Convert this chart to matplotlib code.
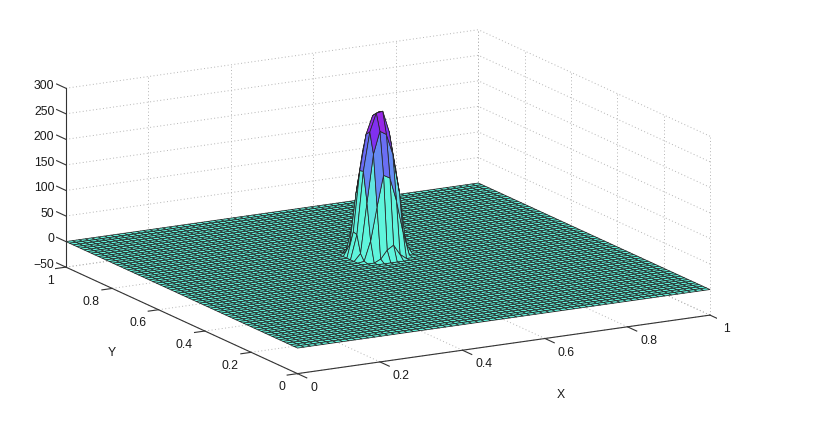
import numpy as np
import matplotlib
matplotlib.use('Agg')
import matplotlib.pyplot as plt
from matplotlib.colors import LinearSegmentedColormap
from mpl_toolkits.mplot3d import proj3d

plt.rcParams['font.family'] = ['Liberation Sans', 'DejaVu Sans']

# grid of the surface
grid_cells = 64
# the peak, rows go with peak_y, columns with peak_x; everything else is 0
peak_x = [0.469, 0.484, 0.500, 0.516, 0.531, 0.547, 0.562, 0.578]
peak_y = [0.531, 0.547, 0.562, 0.578, 0.594, 0.609, 0.625, 0.641]
peak_z = [
    [0, 0, 6, 22, 30, 10, 0, 0],
    [2, 40, 105, 165, 158, 112, 50, 2],
    [14, 112, 205, 248, 240, 200, 125, 22],
    [48, 170, 245, 280, 282, 240, 165, 58],
    [50, 168, 238, 272, 278, 248, 172, 62],
    [22, 122, 200, 236, 246, 207, 118, 30],
    [4, 58, 120, 162, 172, 128, 60, 6],
    [0, 8, 30, 58, 52, 22, 3, 0],
]

x_ticks = [0, 0.2, 0.4, 0.6, 0.8, 1]
y_ticks = [0, 0.2, 0.4, 0.6, 0.8, 1]
z_ticks = [-50, 0, 50, 100, 150, 200, 250, 300]
x_labels = ['0', '0.2', '0.4', '0.6', '0.8', '1']
y_labels = ['0', '0.2', '0.4', '0.6', '0.8', '1']
z_labels = ['\u221250', '0', '50', '100', '150', '200', '250', '300']

xs = np.linspace(0, 1, grid_cells + 1)
ys = np.linspace(0, 1, grid_cells + 1)
X, Y = np.meshgrid(xs, ys)
Z = np.zeros_like(X)
for r, py in enumerate(peak_y):
    for c, px in enumerate(peak_x):
        Z[np.argmin(abs(ys - py)), np.argmin(abs(xs - px))] = peak_z[r][c]

# colour of a facet follows its mean height
cmap = LinearSegmentedColormap.from_list('peak', [
    (0.0, '#5ff5dc'), (0.38, '#5ff5dc'), (0.56, '#62a8f2'),
    (0.74, '#6a6af5'), (0.88, '#8030f0'), (1.0, '#a820e0')])
zc = (Z[:-1, :-1] + Z[1:, :-1] + Z[:-1, 1:] + Z[1:, 1:]) / 4
face = cmap(np.clip(zc / 278, 0, 1))

fig = plt.figure(figsize=(8.3, 4.22), dpi=100)
ax = fig.add_axes([41 / 830, -126.6 / 422, 675.6 / 830, 675.6 / 422], projection='3d', proj_type='ortho')
ax.computed_zorder = False
ax.set_axis_off()
ax.patch.set_alpha(0)
ax.view_init(elev=14.8, azim=-119.05)
ax.set_box_aspect((471.8, 476.9, 185))
ax.set_xlim(0, 1)
ax.set_ylim(0, 1)
ax.set_zlim(-50, 300)

# dotted grid on the floor and the two back walls
grid_style = dict(color='#b4b4b4', lw=0.7, ls=(0, (1, 2.5)), zorder=1)
for t in x_ticks:
    ax.plot([t, t], [0, 1], [-50, -50], **grid_style)
    ax.plot([t, t], [1, 1], [-50, 300], **grid_style)
for t in y_ticks:
    ax.plot([0, 1], [t, t], [-50, -50], **grid_style)
    ax.plot([1, 1], [t, t], [-50, 300], **grid_style)
for t in z_ticks:
    ax.plot([0, 1], [1, 1], [t, t], **grid_style)
    ax.plot([1, 1], [0, 1], [t, t], **grid_style)

ax.plot_surface(X, Y, Z, facecolors=face, edgecolor='#262626', linewidth=0.55,
                rstride=1, cstride=1, shade=False, zorder=2)

font = dict(fontsize=8.8, color='#1a1a1a')


def label3d(x, y, z, s, ha='center'):
    # plain 2D text placed at the projected position of a 3D point
    px, py, _ = proj3d.proj_transform(x, y, z, ax.get_proj())
    ax.text2D(px, py, s, transform=ax.transData, ha=ha, va='center', **font)


# axis lines, ticks and tick labels
line_style = dict(color='#333333', lw=0.8, zorder=3)
ax.plot([0, 1], [0, 0], [-50, -50], **line_style)
ax.plot([0, 0], [0, 1], [-50, -50], **line_style)
ax.plot([0, 0], [1, 1], [-50, 300], **line_style)
for t, s in zip(x_ticks, x_labels):
    ax.plot([t, t], [0, -0.04], [-50, -50], **line_style)
    label3d(t, -0.055, -66, s, ha='left')
for t, s in zip(y_ticks, y_labels):
    ax.plot([0, -0.025], [t, t], [-50, -50], **line_style)
    label3d(-0.03, t, -73, s, ha='right')
for t, s in zip(z_ticks, z_labels):
    ax.plot([0, 0], [1, 1.04], [t, t], **line_style)
    label3d(0, 1.05, t - 6, s, ha='right')

fig.text(561 / 830, 1 - 395 / 422, 'X', ha='center', va='center', **font)
fig.text(112 / 830, 1 - 353 / 422, 'Y', ha='center', va='center', **font)

fig.savefig('out.png', dpi=100)
